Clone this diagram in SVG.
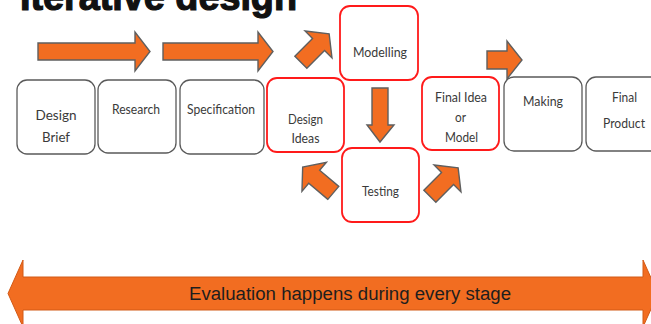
<svg xmlns="http://www.w3.org/2000/svg" width="651" height="324" viewBox="0 0 651 324">
  <style>
    .box { fill: #ffffff; stroke: #5a5a5a; stroke-width: 1.3; }
    .hot { fill: #ffffff; stroke: #ff1a1a; stroke-width: 1.8; }
    .lbl { font-family: Lato, "Open Sans", "Liberation Sans", sans-serif; font-size: 14px; fill: #3a3a3a; text-anchor: middle; }
    .flow { fill: #f26d21; stroke: #5f5f5f; stroke-width: 1.4; stroke-linejoin: miter; }
    .band { fill: #f26d21; stroke: #d25a16; stroke-width: 1; }
    .title { font-family: "Liberation Sans", Arial, sans-serif; font-weight: bold; font-size: 38px; fill: #111111; stroke: #111111; stroke-width: 1.2; }
    .eval { font-family: "Liberation Sans", Arial, sans-serif; font-size: 18px; fill: #1e1e1e; text-anchor: middle; }
  </style>
  <defs>
    <!-- block arrow centred on the origin, pointing along +x -->
    <path id="blockArrow" d="M-20,-8.5 H5 V-19 L20,0 L5,19 V8.5 H-20 Z"/>
  </defs>

  <rect width="651" height="324" fill="#ffffff"/>

  <!-- heading, cropped by the top edge -->
  <text class="title" x="20" y="10" textLength="277" lengthAdjust="spacingAndGlyphs">Iterative design</text>

  <g id="node-design-brief">
    <rect class="box" x="17" y="80" width="78" height="74" rx="10"/>
    <text class="lbl" x="56" y="120" textLength="41" lengthAdjust="spacingAndGlyphs">Design</text>
    <text class="lbl" x="56" y="142" textLength="28" lengthAdjust="spacingAndGlyphs">Brief</text>
  </g>
  <g id="node-research">
    <rect class="box" x="98" y="80" width="78" height="73" rx="10"/>
    <text class="lbl" x="136" y="114" textLength="48" lengthAdjust="spacingAndGlyphs">Research</text>
  </g>
  <g id="node-specification">
    <rect class="box" x="180" y="80" width="84" height="74" rx="10"/>
    <text class="lbl" x="221" y="114" textLength="68" lengthAdjust="spacingAndGlyphs">Specification</text>
  </g>
  <g id="node-design-ideas">
    <rect class="hot" x="267" y="78" width="77" height="74" rx="10"/>
    <text class="lbl" x="305.5" y="124" textLength="35" lengthAdjust="spacingAndGlyphs">Design</text>
    <text class="lbl" x="305.5" y="143" textLength="28" lengthAdjust="spacingAndGlyphs">Ideas</text>
  </g>
  <g id="node-modelling">
    <rect class="hot" x="340" y="6" width="78" height="74" rx="10"/>
    <text class="lbl" x="380" y="57" textLength="54" lengthAdjust="spacingAndGlyphs">Modelling</text>
  </g>
  <g id="node-testing">
    <rect class="hot" x="342" y="148" width="77" height="74" rx="10"/>
    <text class="lbl" x="380.5" y="196" textLength="37" lengthAdjust="spacingAndGlyphs">Testing</text>
  </g>
  <g id="node-final-idea">
    <rect class="hot" x="422" y="77" width="77" height="73" rx="10"/>
    <text class="lbl" x="461" y="102" textLength="52" lengthAdjust="spacingAndGlyphs">Final Idea</text>
    <text class="lbl" x="460.5" y="122" textLength="11" lengthAdjust="spacingAndGlyphs">or</text>
    <text class="lbl" x="461.5" y="142" textLength="33" lengthAdjust="spacingAndGlyphs">Model</text>
  </g>
  <g id="node-making">
    <rect class="box" x="504" y="77" width="78" height="74" rx="10"/>
    <text class="lbl" x="543" y="106" textLength="40" lengthAdjust="spacingAndGlyphs">Making</text>
  </g>
  <g id="node-final-product">
    <rect class="box" x="586" y="77" width="78" height="74" rx="10"/>
    <text class="lbl" x="624.5" y="102" textLength="25" lengthAdjust="spacingAndGlyphs">Final</text>
    <text class="lbl" x="624" y="128" textLength="42" lengthAdjust="spacingAndGlyphs">Product</text>
  </g>

  <g id="connectors">
    <path class="flow" d="M38,43 H135 V32 L150,51.5 L135,71 V60 H38 Z"/>
    <path class="flow" d="M163,43 H258 V32 L273,51.5 L258,71 V60 H163 Z"/>
    <use class="flow" href="#blockArrow" transform="translate(315,48) rotate(-45)"/>
    <path class="flow" d="M372,88 H388 V125 H394 L380,142 L367,125 H372 Z"/>
    <use class="flow" href="#blockArrow" transform="translate(318,180) rotate(-140)"/>
    <use class="flow" href="#blockArrow" transform="translate(444,182) rotate(-45)"/>
    <path class="flow" d="M487,51 H507 V41 L522,60 L507,79 V69 H487 Z"/>
  </g>

  <g id="evaluation-band">
    <path class="band" d="M8,293.5 L23,260 V277 H643 V260 L658,293.5 L643,327 V310 H23 V327 Z"/>
    <text class="eval" x="350" y="300" textLength="322" lengthAdjust="spacingAndGlyphs">Evaluation happens during every stage</text>
  </g>
</svg>
